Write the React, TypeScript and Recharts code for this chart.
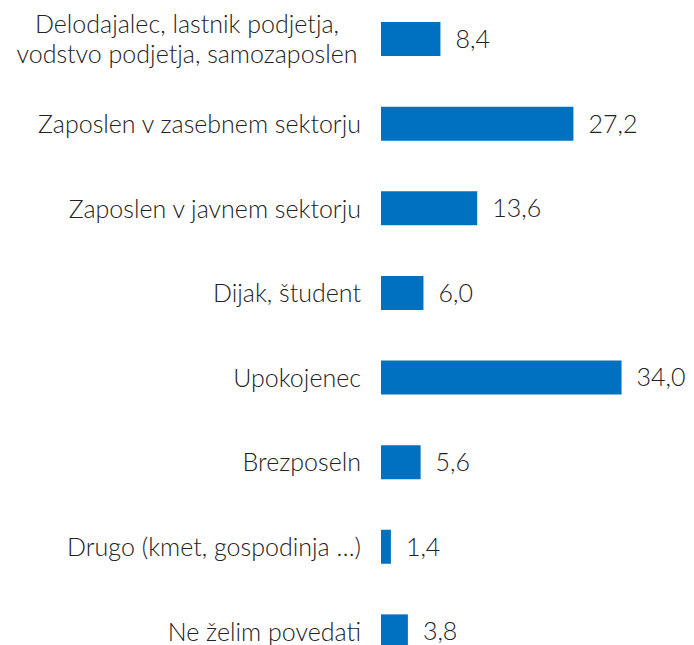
import React from 'react';
import { BarChart, Bar, XAxis, YAxis, LabelList } from 'recharts';

const categories = [
  'Delodajalec, lastnik podjetja,|vodstvo podjetja, samozaposlen',
  'Zaposlen v zasebnem sektorju',
  'Zaposlen v javnem sektorju',
  'Dijak, študent',
  'Upokojenec',
  'Brezposeln',
  'Drugo (kmet, gospodinja …)',
  'Ne želim povedati',
];
const values = [8.4, 27.2, 13.6, 6.0, 34.0, 5.6, 1.4, 3.8];

const data = categories.map((c, i) => ({ name: c, value: values[i] }));

const FONT = 'Lato, "Open Sans", sans-serif';
const TEXT = '#222222';
const FS = 25;

const Tick = (props: any) => {
  const { x, y, payload } = props;
  const lines = String(payload.value).split('|');
  const lh = 30;
  const start = -((lines.length - 1) * lh) / 2;
  if (lines.length === 1) {
    return (
      <text x={x - 12} y={y} dy="0.36em" textAnchor="end" fill={TEXT} fontFamily={FONT} fontSize={FS} fontWeight={300}>
        {lines[0]}
      </text>
    );
  }
  const cx = x - 12 - 174;
  return (
    <text x={cx} y={y} textAnchor="middle" fill={TEXT} fontFamily={FONT} fontSize={FS} fontWeight={300}>
      {lines.map((l, i) => (
        <tspan key={i} x={cx} y={y + start + i * lh} dy="0.36em">{l}</tspan>
      ))}
    </text>
  );
};

export default function App() {
  return (
    <div style={{ position: 'absolute', left: 0, top: -3 }}>
      <BarChart
        width={694}
        height={677}
        data={data}
        layout="vertical"
        margin={{ top: 0, right: 30, bottom: 0, left: 0 }}
      >
        <XAxis type="number" domain={[0, 40]} hide />
        <YAxis
          type="category"
          dataKey="name"
          width={381}
          axisLine={false}
          tickLine={false}
          tick={<Tick />}
          interval={0}
        />
        <Bar dataKey="value" fill="#0070C0" barSize={34} isAnimationActive={false}>
          <LabelList
            dataKey="value"
            position="right"
            offset={15}
            formatter={(v: any) => Number(v).toFixed(1).replace('.', ',')}
            style={{ fill: TEXT, fontFamily: FONT, fontSize: FS, fontWeight: 300 }}
          />
        </Bar>
      </BarChart>
    </div>
  );
}
